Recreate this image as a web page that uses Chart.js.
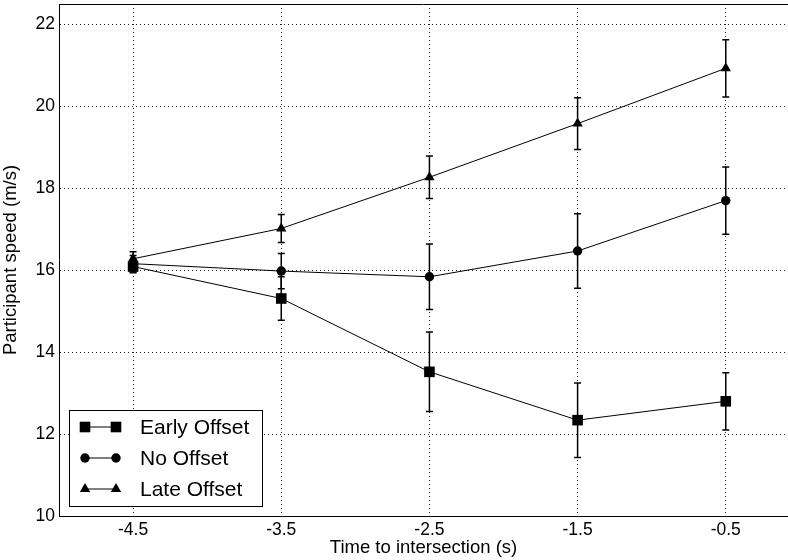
<!DOCTYPE html>
<html>
<head>
<meta charset="utf-8">
<script src="https://cdn.jsdelivr.net/npm/chart.js@4.4.0/dist/chart.umd.min.js"></script>
<style>
  html, body { margin: 0; padding: 0; background: #fff; overflow: hidden; }
  #wrap { width: 788px; height: 560px; }
</style>
</head>
<body>
<div id="wrap"><canvas id="myChart" width="788" height="560"></canvas></div>
<script>
// values
const timeToIntersection = [-4.5, -3.5, -2.5, -1.5, -0.5];
const xTicks = [-4.5, -3.5, -2.5, -1.5, -0.5];
const yTicks = [10, 12, 14, 16, 18, 20, 22];

const earlyOffset = [16.09, 15.31, 13.52, 12.34, 12.80];
const earlyOffsetErr = [0.15, 0.53, 0.97, 0.91, 0.70];

const noOffset = [16.16, 15.98, 15.84, 16.47, 17.70];
const noOffsetErr = [0.20, 0.43, 0.80, 0.91, 0.82];

const lateOffset = [16.28, 17.02, 18.27, 19.58, 20.93];
const lateOffsetErr = [0.17, 0.34, 0.52, 0.63, 0.70];

const FONT = "'Liberation Sans', Arial, Helvetica, sans-serif";

function toPoints(ys) {
	return timeToIntersection.map((x, i) => ({ x: x, y: ys[i] }))
}

function makeSet(label, ys, errs, style, radius) {
	return {
		label: label,
		data: toPoints(ys),
		errors: errs,
		borderColor: '#000',
		backgroundColor: '#000',
		borderWidth: 1,
		pointStyle: style,
		pointRadius: radius,
		pointHoverRadius: radius,
		pointBackgroundColor: '#000',
		pointBorderColor: '#000',
		pointBorderWidth: 0,
		tension: 0
	}
}

function noPad(axis) {
	axis.paddingTop = 0;
	axis.paddingBottom = 0;
	axis.paddingLeft = 0;
	axis.paddingRight = 0;
}

// error bars, drawn through the scales before the points
const errorBars = {
	id: 'errorBars',
	beforeDatasetsDraw(chart) {
		const ctx = chart.ctx;
		const xs = chart.scales.x, ys = chart.scales.y;
		ctx.save();
		ctx.strokeStyle = '#000';
		ctx.lineWidth = 1.5;
		chart.data.datasets.forEach(ds => {
			ds.data.forEach((p, i) => {
				const e = ds.errors[i];
				const px = xs.getPixelForValue(p.x);
				const top = ys.getPixelForValue(p.y + e);
				const bot = ys.getPixelForValue(p.y - e);
				ctx.beginPath();
				ctx.moveTo(px, top); ctx.lineTo(px, bot);
				ctx.moveTo(px - 3.5, top); ctx.lineTo(px + 3.5, top);
				ctx.moveTo(px - 3.5, bot); ctx.lineTo(px + 3.5, bot);
				ctx.stroke();
			});
		});
		ctx.restore();
	}
};

// top edge of the plot box + legend inside the lower left corner
const boxAndLegend = {
	id: 'boxAndLegend',
	afterDraw(chart) {
		const ctx = chart.ctx;
		const a = chart.chartArea;
		ctx.save();
		ctx.strokeStyle = '#000';
		ctx.lineWidth = 1;
		const ty = Math.round(a.top) + 0.5;
		ctx.beginPath();
		ctx.moveTo(a.left, ty); ctx.lineTo(a.right, ty);
		ctx.stroke();

		const lx = a.left + 10, lw = 193, lh = 96;
		const ly = a.bottom - 10 - lh;
		ctx.fillStyle = '#fff';
		ctx.fillRect(lx, ly, lw, lh);
		ctx.strokeRect(Math.round(lx) + 0.5, Math.round(ly) + 0.5, lw, lh);

		ctx.font = '21px ' + FONT;
		ctx.textBaseline = 'middle';
		chart.data.datasets.forEach((ds, i) => {
			const cy = ly + 17 + i * 31;
			const x1 = lx + 16, x2 = lx + 47;
			ctx.strokeStyle = '#000';
			ctx.lineWidth = 1;
			ctx.beginPath();
			ctx.moveTo(x1, cy); ctx.lineTo(x2, cy);
			ctx.stroke();
			const opts = { pointStyle: ds.pointStyle, radius: ds.pointRadius, rotation: 0, borderWidth: 0 };
			ctx.fillStyle = '#000';
			Chart.helpers.drawPoint(ctx, opts, x1, cy);
			Chart.helpers.drawPoint(ctx, opts, x2, cy);
			ctx.fillStyle = '#000';
			ctx.fillText(ds.label, lx + 71, cy + 1);
		});
		ctx.restore();
	}
};

const ctx = document.getElementById('myChart').getContext('2d');
const myChart = new Chart(ctx, {
	type: 'line',
	data: {
		datasets: [
			makeSet('Early Offset', earlyOffset, earlyOffsetErr, 'rect', 7.5),
			makeSet('No Offset', noOffset, noOffsetErr, 'circle', 4.7),
			makeSet('Late Offset', lateOffset, lateOffsetErr, 'triangle', 6)
		]
	},
	options: {
		responsive: false,
		animation: false,
		layout: { padding: { top: 4, left: 0, right: 0, bottom: 0 }, autoPadding: false },
		plugins: {
			legend: { display: false },
			tooltip: { enabled: false }
		},
		scales: {
			x: {
				type: 'linear',
				min: -5,
				max: -0.08,
				afterBuildTicks: axis => { axis.ticks = xTicks.map(v => ({ value: v })) },
				afterFit: axis => { axis.height = 44; noPad(axis) },
				grid: { color: '#222', lineWidth: 1, drawTicks: false },
				border: { display: true, color: '#000', width: 1, dash: [1, 3] },
				ticks: {
					color: '#000',
					padding: 4,
					maxRotation: 0,
					font: { family: FONT, size: 17.5 },
					callback: v => v.toFixed(1)
				},
				title: {
					display: true,
					text: 'Time to intersection (s)',
					color: '#000',
					padding: { top: 0, bottom: 1 },
					font: { family: FONT, size: 18.5 }
				}
			},
			y: {
				type: 'linear',
				min: 10,
				max: 22.5,
				afterBuildTicks: axis => { axis.ticks = yTicks.map(v => ({ value: v })) },
				afterFit: axis => { axis.width = 59; noPad(axis) },
				grid: { color: '#222', lineWidth: 1, drawTicks: false },
				border: { display: true, color: '#000', width: 1, dash: [1, 3] },
				ticks: {
					color: '#000',
					padding: 4,
					font: { family: FONT, size: 17.5 }
				},
				title: {
					display: true,
					text: 'Participant speed (m/s)',
					color: '#000',
					padding: { top: 0, bottom: 2 },
					font: { family: FONT, size: 18.5 }
				}
			}
		}
	},
	plugins: [errorBars, boxAndLegend]
});
</script>
</body>
</html>
